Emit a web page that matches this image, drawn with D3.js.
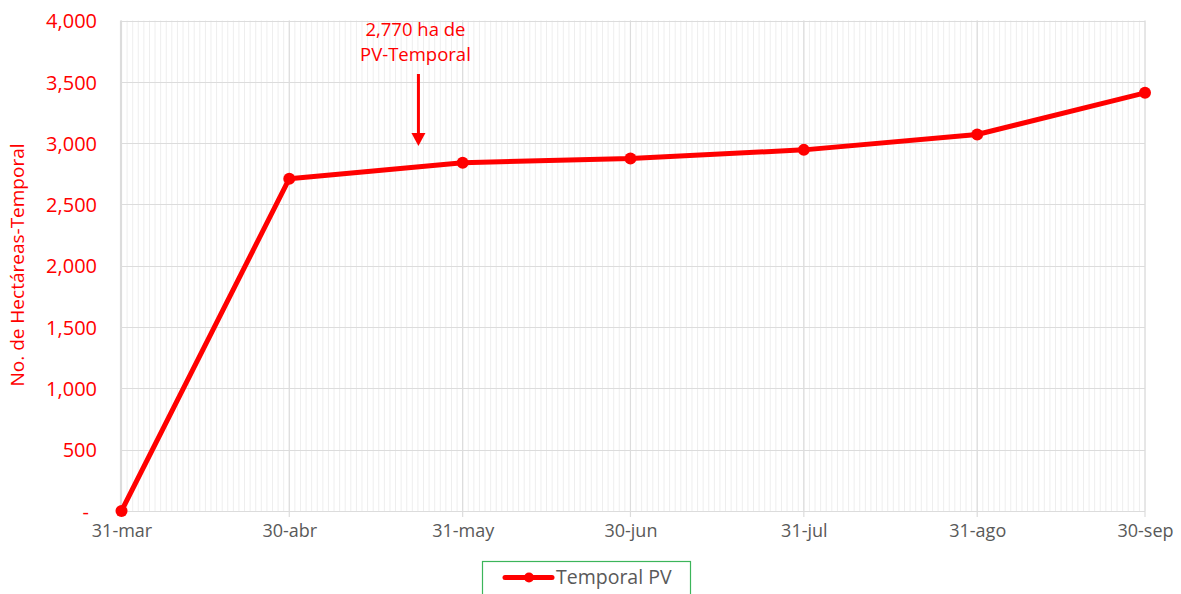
<!DOCTYPE html>
<html>
<head>
<meta charset="utf-8">
<script src="https://cdn.jsdelivr.net/npm/d3@7"></script>
<style>
  html, body { margin: 0; padding: 0; background: #fff; }
  svg { display: block; }
  text { font-family: "Open Sans", "Noto Sans", sans-serif; }
</style>
</head>
<body>
<svg id="chart" width="1181" height="594"></svg>
<script>
const dates = ["2021-03-31", "2021-04-30", "2021-05-31", "2021-06-30", "2021-07-31", "2021-08-31", "2021-09-30"];
const tickLabels = ["31-mar", "30-abr", "31-may", "30-jun", "31-jul", "31-ago", "30-sep"];
const values = [0, 2710, 2840, 2875, 2945, 3070, 3410];
const yTicks = [0, 500, 1000, 1500, 2000, 2500, 3000, 3500, 4000];
const seriesName = "Temporal PV";
const yTitle = "No. de Hectáreas-Temporal";
const annotationLines = ["2,770 ha de", "PV-Temporal"];
const annotationDate = "2021-05-23";

const parse = d3.utcParse("%Y-%m-%d");
const dDates = dates.map(parse);
const svg = d3.select("#chart");
const red = "#ff0000";

const x = d3.scaleUtc().domain([dDates[0], dDates[dDates.length - 1]]).range([121.5, 1145]);
const y = d3.scaleLinear().domain([0, 4000]).range([511, 20.5]);

// minor daily gridlines
const days = d3.utcDay.range(dDates[0], d3.utcDay.offset(dDates[dDates.length - 1], 1));
svg.append("g").selectAll("line").data(days).join("line")
  .attr("x1", d => x(d)).attr("x2", d => x(d))
  .attr("y1", y(4000)).attr("y2", y(0))
  .attr("stroke", "#eeeeee").attr("stroke-width", 1);

// horizontal gridlines
svg.append("g").selectAll("line").data(yTicks).join("line")
  .attr("x1", 120).attr("x2", 1145)
  .attr("y1", d => Math.round(y(d)) + 0.5).attr("y2", d => Math.round(y(d)) + 0.5)
  .attr("stroke", "#dcdcdc").attr("stroke-width", 1.2);

// major vertical gridlines
svg.append("g").selectAll("line").data(dDates).join("line")
  .attr("x1", d => x(d)).attr("x2", d => x(d))
  .attr("y1", y(4000)).attr("y2", y(0) + 6)
  .attr("stroke", "#dcdcdc").attr("stroke-width", 1.2);

// left border
svg.append("line").attr("x1", 120.5).attr("x2", 120.5).attr("y1", y(4000)).attr("y2", y(0))
  .attr("stroke", "#dcdcdc").attr("stroke-width", 1.2);

// y axis
const yAxis = d3.axisLeft(y).tickValues(yTicks).tickSize(0).tickPadding(0)
  .tickFormat(d => d === 0 ? "-" : d3.format(",")(d));
const gy = svg.append("g").attr("transform", "translate(97,0)").call(yAxis);
gy.select(".domain").remove();
gy.selectAll("text").attr("fill", red).attr("font-size", 20)
  .attr("font-family", "'Open Sans', sans-serif")
  .attr("dy", "0.36em");
gy.selectAll(".tick").filter(d => d === 0).select("text").attr("x", -8);

// x axis
const xAxis = d3.axisBottom(x).tickValues(dDates).tickSize(0).tickPadding(0)
  .tickFormat((d, i) => tickLabels[i]);
const gx = svg.append("g").attr("transform", "translate(0,524)").call(xAxis);
gx.select(".domain").remove();
gx.selectAll("text").attr("fill", "#595959").attr("font-size", 18)
  .attr("font-family", "'Open Sans', sans-serif");

// y title
svg.append("text")
  .attr("transform", "translate(24,265) rotate(-90)")
  .attr("text-anchor", "middle")
  .attr("fill", red).attr("font-size", 19)
  .text(yTitle);

// line
const line = d3.line().x((d, i) => x(dDates[i])).y(d => y(d));
svg.append("path").datum(values)
  .attr("d", line)
  .attr("fill", "none").attr("stroke", red).attr("stroke-width", 5)
  .attr("stroke-linejoin", "round");
svg.append("g").selectAll("circle").data(values).join("circle")
  .attr("cx", (d, i) => x(dDates[i])).attr("cy", d => y(d))
  .attr("r", 6).attr("fill", red);

// annotation
const ax = x(parse(annotationDate)) + 0.5;
svg.append("g").selectAll("text").data(annotationLines).join("text")
  .attr("x", ax - 3).attr("y", (d, i) => 36 + i * 25)
  .attr("text-anchor", "middle").attr("fill", red).attr("font-size", 18.5)
  .text(d => d);
svg.append("line").attr("x1", ax).attr("x2", ax).attr("y1", 74).attr("y2", 135)
  .attr("stroke", red).attr("stroke-width", 3);
svg.append("path")
  .attr("d", `M${ax - 7},133 L${ax + 7},133 L${ax},146 Z`)
  .attr("fill", red);

// legend
const lg = svg.append("g");
lg.append("rect").attr("x", 482.5).attr("y", 561.5).attr("width", 208).attr("height", 40)
  .attr("fill", "#fff").attr("stroke", "#3cb55a").attr("stroke-width", 1.2);
lg.append("line").attr("x1", 505).attr("x2", 552).attr("y1", 577.5).attr("y2", 577.5)
  .attr("stroke", red).attr("stroke-width", 5).attr("stroke-linecap", "round");
lg.append("circle").attr("cx", 529).attr("cy", 577.5).attr("r", 5).attr("fill", red);
lg.append("text").attr("x", 556).attr("y", 584).attr("fill", "#595959")
  .attr("font-size", 19.5).text(seriesName);
</script>
</body>
</html>
